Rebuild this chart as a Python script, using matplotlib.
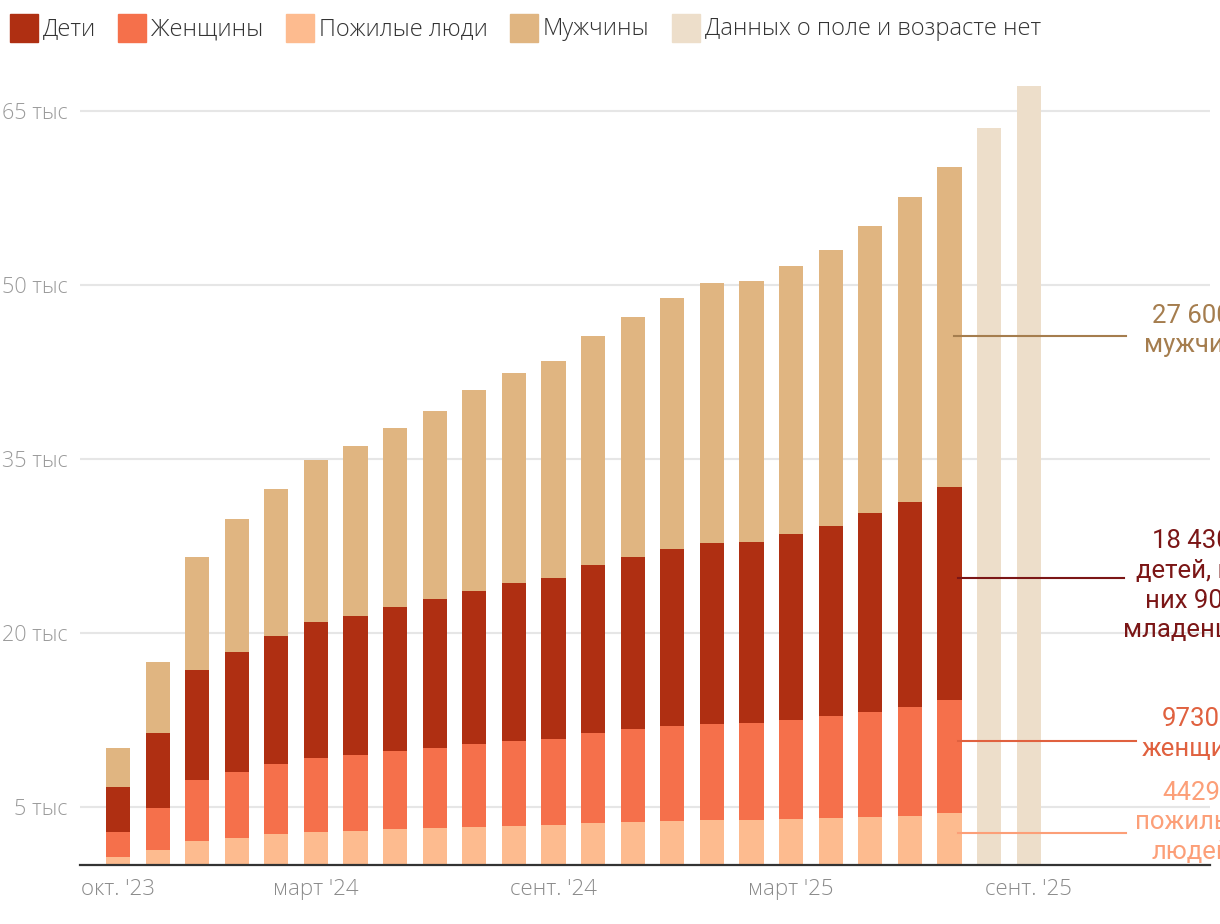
import matplotlib
matplotlib.use("Agg")
import matplotlib.pyplot as plt
from matplotlib.patches import Rectangle
import numpy as np

# data, persons per month (Oct 2023 .. Sep 2025)
months = ["2023-10", "2023-11", "2023-12", "2024-01", "2024-02", "2024-03",
          "2024-04", "2024-05", "2024-06", "2024-07", "2024-08", "2024-09",
          "2024-10", "2024-11", "2024-12", "2025-01", "2025-02", "2025-03",
          "2025-04", "2025-05", "2025-06", "2025-07", "2025-08", "2025-09"]
elderly = [660, 1270, 2040, 2300, 2650, 2800, 2900, 3070, 3160, 3260, 3360, 3420,
           3620, 3690, 3790, 3860, 3860, 3960, 4000, 4100, 4190, 4429]
women = [2140, 3630, 5260, 5700, 6050, 6400, 6550, 6730, 6890, 7180, 7310, 7420,
         7760, 8020, 8190, 8290, 8390, 8520, 8800, 9100, 9370, 9730]
children = [3900, 6450, 9500, 10300, 11000, 11700, 11950, 12400, 12850, 13160, 13630, 13860,
            14420, 14790, 15220, 15550, 15600, 16020, 16400, 17100, 17740, 18430]
men = [3350, 6120, 9700, 11500, 12700, 14000, 14700, 15470, 16240, 17350, 18110, 18750,
       19800, 20740, 21680, 22470, 22490, 23140, 23820, 24790, 26300, 27600]
no_data_total = [63500, 67100]

tick_idx = [0, 5, 11, 17, 23]
tick_labels = ["окт. '23", "март '24", "сент. '24", "март '25", "сент. '25"]
y_ticks = [5000, 20000, 35000, 50000, 65000]
y_labels = ["5 тыс", "20 тыс", "35 тыс", "50 тыс", "65 тыс"]

C_CHILD = "#af2f12"
C_WOMEN = "#f5704b"
C_OLD = "#fdbb8f"
C_MEN = "#e0b581"
C_NONE = "#eddeca"

plt.rcParams['font.family'] = ['Open Sans', 'DejaVu Sans']

fig = plt.figure(figsize=(12.2, 9.24), dpi=100)
ax = fig.add_axes([80/1220, (924-864.7)/924, 1130/1220, (864.7-75)/924])

n = len(elderly)
x = np.arange(n)
el = np.array(elderly)
wo = np.array(women)
ch = np.array(children)
mn = np.array(men)
w = 0.61
ax.bar(x, el, w, color=C_OLD, zorder=2)
ax.bar(x, wo, w, bottom=el, color=C_WOMEN, zorder=2)
ax.bar(x, ch, w, bottom=el + wo, color=C_CHILD, zorder=2)
ax.bar(x, mn, w, bottom=el + wo + ch, color=C_MEN, zorder=2)
x2 = np.arange(n, n + len(no_data_total))
ax.bar(x2, no_data_total, w, color=C_NONE, zorder=2)

ax.set_xlim(-0.96, 27.58)
ax.set_ylim(0, 68080)
ax.set_yticks(y_ticks)
ax.set_yticklabels(y_labels)
ax.set_xticks(tick_idx)
ax.set_xticklabels(tick_labels)
ax.grid(axis='y', color='#e6e6e6', lw=1.5, zorder=0)
for s in ['top', 'right', 'left']:
    ax.spines[s].set_visible(False)
ax.spines['bottom'].set_color('#333333')
ax.spines['bottom'].set_linewidth(1.6)
ax.tick_params(axis='y', length=0, pad=9, labelsize=15.5, labelcolor='#9a9a9a')
ax.tick_params(axis='x', length=0, pad=10, labelsize=16, labelcolor='#8a8a8a')
for t in ax.get_xticklabels() + ax.get_yticklabels():
    t.set_fontweight('light')

# annotations for last month with data
last = n - 1
line_y = [2730, 10660, 24700, 45600]
text_y = [3650, 11250, 24050, 46050]
texts = ["4429\nпожилых\nлюдей", "9730\nженщин", "18 430\nдетей, из\nних 900\nмладенцев",
         "27 600\nмужчин"]
t_colors = ["#fc9f78", "#e0613f", "#7b1616", "#a57d4e"]
l_starts = [0.22, 0.22, 0.22, 0.12]
l_ends = [25.45, 25.7, 25.4, 25.45]
for ly, ty, tx, c, ls, le in zip(line_y, text_y, texts, t_colors, l_starts, l_ends):
    ax.plot([last + ls, le], [ly, ly], color=c, lw=1.5, clip_on=False, zorder=3)
    ax.text(27.1, ty, tx, color=c, fontsize=18.5, family=['Roboto', 'DejaVu Sans'],
            ha='center', va='center', multialignment='center', linespacing=1.3,
            clip_on=False)

# legend
leg = [("Дети", C_CHILD, 10), ("Женщины", C_WOMEN, 118), ("Пожилые люди", C_OLD, 286),
       ("Мужчины", C_MEN, 510), ("Данных о поле и возрасте нет", C_NONE, 672)]
for name, c, px in leg:
    fig.patches.append(Rectangle((px/1220, 1 - 42/924), 28/1220, 28/924,
                                 transform=fig.transFigure, color=c))
    fig.text((px + 33)/1220, 1 - 29/924, name, fontsize=17, color='#333333',
             fontweight='light', va='center', ha='left')

fig.savefig("out.png", dpi=100)
